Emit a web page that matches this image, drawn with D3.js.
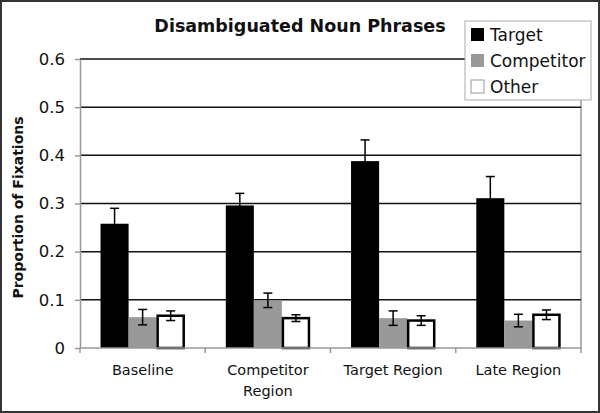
<!DOCTYPE html>
<html>
<head>
<meta charset="utf-8">
<script src="https://cdn.jsdelivr.net/npm/d3@7"></script>
<style>
  body { margin: 0; background: #fff; }
  text { font-family: "DejaVu Sans", Verdana, sans-serif; }
</style>
</head>
<body>
<div id="chart"></div>
<script>
// data
var categories = [["Baseline"], ["Competitor", "Region"], ["Target Region"], ["Late Region"]];
var seriesNames = ["Target", "Competitor", "Other"];
var targetVals = [0.258, 0.296, 0.388, 0.311];
var targetErr = [0.032, 0.025, 0.044, 0.045];
var competitorVals = [0.064, 0.099, 0.062, 0.057];
var competitorErr = [0.016, 0.015, 0.015, 0.013];
var otherVals = [0.067, 0.062, 0.057, 0.069];
var otherErr = [0.010, 0.007, 0.010, 0.010];
var yTicks = [0, 0.1, 0.2, 0.3, 0.4, 0.5, 0.6];

var svgWidth = 600;
var svgHeight = 413;
var margin = { top: 59, right: 19, bottom: 65, left: 80 };
var width = svgWidth - margin.left - margin.right;
var height = svgHeight - margin.top - margin.bottom;

var svg = d3.select("#chart")
  .append("svg")
  .attr("width", svgWidth)
  .attr("height", svgHeight);

// outer frame
svg.append("rect")
  .attr("x", 1).attr("y", 1)
  .attr("width", svgWidth - 2).attr("height", svgHeight - 2)
  .attr("fill", "#fff")
  .attr("stroke", "#333")
  .attr("stroke-width", 2);

var chartGroup = svg.append("g")
  .attr("transform", `translate(${margin.left}, ${margin.top})`);

var x0 = d3.scaleBand()
  .domain(d3.range(categories.length))
  .range([0, width])
  .paddingInner(0.328)
  .paddingOuter(0.164);

var x1 = d3.scaleBand()
  .domain(seriesNames)
  .range([0, x0.bandwidth()]);

var y = d3.scaleLinear()
  .domain([0, 0.6])
  .range([height, 0]);

var fills = { Target: "#000", Competitor: "#999", Other: "#fff" };

// plot area right border
chartGroup.append("line")
  .attr("x1", width).attr("x2", width)
  .attr("y1", 0).attr("y2", height)
  .attr("stroke", "#999").attr("stroke-width", 1.5);

// gridlines
chartGroup.selectAll(".grid")
  .data(yTicks.filter(d => d > 0))
  .enter().append("line")
  .attr("class", "grid")
  .attr("x1", 0).attr("x2", width)
  .attr("y1", d => y(d)).attr("y2", d => y(d))
  .attr("stroke", "#111").attr("stroke-width", 1.5);

// y axis
var leftAxis = d3.axisLeft(y)
  .tickValues(yTicks)
  .tickFormat(d => d === 0 ? "0" : d3.format(".1f")(d))
  .tickSizeInner(5).tickSizeOuter(0).tickPadding(10);

var yAxisG = chartGroup.append("g").call(leftAxis);
yAxisG.select(".domain").attr("stroke", "#999").attr("stroke-width", 1.5);
yAxisG.selectAll(".tick line").attr("stroke", "#999").attr("stroke-width", 1.5);
yAxisG.selectAll(".tick text")
  .attr("font-size", "16.5px")
  .attr("font-family", "DejaVu Sans, Verdana, sans-serif")
  .attr("fill", "#111");

// bars
var rows = categories.map(function(c, i) {
  return [
    { key: "Target", v: targetVals[i], e: targetErr[i] },
    { key: "Competitor", v: competitorVals[i], e: competitorErr[i] },
    { key: "Other", v: otherVals[i], e: otherErr[i] }
  ];
});

var groups = chartGroup.selectAll(".cat")
  .data(rows)
  .enter().append("g")
  .attr("class", "cat")
  .attr("transform", (d, i) => `translate(${x0(i)}, 0)`);

groups.selectAll("rect")
  .data(d => d)
  .enter().append("rect")
  .attr("x", d => x1(d.key) + (d.key === "Other" ? 1 : 0))
  .attr("y", d => y(d.v))
  .attr("width", d => x1.bandwidth() - (d.key === "Other" ? 2 : 0))
  .attr("height", d => height - y(d.v))
  .attr("fill", d => fills[d.key])
  .attr("stroke", d => d.key === "Other" ? "#000" : "none")
  .attr("stroke-width", 2.5);

// error bars
var err = groups.selectAll(".err")
  .data(d => d)
  .enter().append("g")
  .attr("class", "err")
  .attr("transform", d => `translate(${x1(d.key) + x1.bandwidth() / 2}, 0)`);

err.append("line")
  .attr("x1", 0).attr("x2", 0)
  .attr("y1", d => y(d.v + d.e)).attr("y2", d => y(d.v - d.e))
  .attr("stroke", "#000").attr("stroke-width", 1.5);

err.selectAll(".cap")
  .data(d => [d.v + d.e, d.v - d.e])
  .enter().append("line")
  .attr("class", "cap")
  .attr("x1", -4.5).attr("x2", 4.5)
  .attr("y1", d => y(d)).attr("y2", d => y(d))
  .attr("stroke", "#000").attr("stroke-width", 1.5);

// x axis
var xAxisG = chartGroup.append("g")
  .attr("transform", `translate(0, ${height})`);
xAxisG.append("line")
  .attr("x1", 0).attr("x2", width)
  .attr("stroke", "#999").attr("stroke-width", 1.5);
xAxisG.selectAll(".xtick")
  .data(d3.range(categories.length + 1))
  .enter().append("line")
  .attr("class", "xtick")
  .attr("x1", d => d * x0.step()).attr("x2", d => d * x0.step())
  .attr("y1", 0).attr("y2", 5)
  .attr("stroke", "#999").attr("stroke-width", 1.5);

var xLabels = xAxisG.selectAll(".xlabel")
  .data(categories)
  .enter().append("text")
  .attr("class", "xlabel")
  .attr("text-anchor", "middle")
  .attr("font-size", "14.5px")
  .attr("fill", "#111")
  .attr("transform", (d, i) => `translate(${x0(i) + x0.bandwidth() / 2}, 27)`);

xLabels.selectAll("tspan")
  .data(d => d)
  .enter().append("tspan")
  .attr("x", 0)
  .attr("dy", (d, i) => i === 0 ? 0 : 21)
  .text(d => d);

// title
svg.append("text")
  .attr("x", 300)
  .attr("y", 32)
  .attr("text-anchor", "middle")
  .attr("font-size", "17.5px")
  .attr("font-weight", "bold")
  .attr("fill", "#111")
  .text("Disambiguated Noun Phrases");

// y axis label
svg.append("text")
  .attr("transform", `translate(23, ${margin.top + height / 2 + 4}) rotate(-90)`)
  .attr("text-anchor", "middle")
  .attr("font-size", "14px")
  .attr("font-weight", "bold")
  .attr("fill", "#111")
  .text("Proportion of Fixations");

// legend
var legend = svg.append("g")
  .attr("transform", "translate(465, 21)");

legend.append("rect")
  .attr("width", 126).attr("height", 79)
  .attr("fill", "#fff")
  .attr("stroke", "#aaa").attr("stroke-width", 1);

var items = legend.selectAll(".item")
  .data(seriesNames)
  .enter().append("g")
  .attr("class", "item")
  .attr("transform", (d, i) => `translate(6, ${7 + i * 26})`);

items.append("rect")
  .attr("width", 13).attr("height", 13)
  .attr("fill", d => fills[d])
  .attr("stroke", d => d === "Other" ? "#999" : "none")
  .attr("stroke-width", 1);

items.append("text")
  .attr("x", 19)
  .attr("y", 13)
  .attr("font-size", "17px")
  .attr("fill", "#111")
  .text(d => d);
</script>
</body>
</html>
